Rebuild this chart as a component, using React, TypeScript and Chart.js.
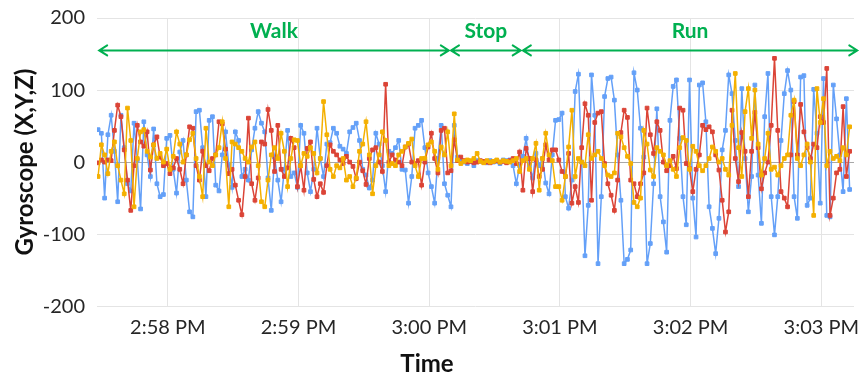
import React, { useEffect, useRef } from 'react';
import { Chart, registerables } from 'chart.js';

Chart.register(...registerables);

// Sample times: seconds after 2:57:00 PM, one reading every STEP_SEC seconds
const START_SEC = 28;
const STEP_SEC = 1.5;
const X_MIN = 27.5;
const X_MAX = 375;

const X_TICK_SECONDS = [60, 120, 180, 240, 300, 360];
const X_TICK_LABELS = ['2:58 PM', '2:59 PM', '3:00 PM', '3:01 PM', '3:02 PM', '3:03 PM'];
const Y_TICKS = [-200, -100, 0, 100, 200];

const GYRO_X = [
  45, 40, -50, 38, 65, 15, -55, 65, 20, -30,
  -40, 54, 3, -65, 56, 10, -20, 46, -30, -48,
  -45, 33, 37, -10, -43, 14, 30, -25, -69, -76,
  70, 72, 20, -48, 58, 63, -32, -40, 10, 42,
  -4, -35, 42, 30, -20, -10, -25, 17, 47, 70,
  54, 42, -22, -67, 7, -25, -55, -10, 44, -20,
  -15, -35, 51, 40, -15, -41, -10, 47, 5, -20,
  25, 27, 47, 40, 22, 18, 12, 42, 48, 54,
  30, -10, -18, -36, -25, 40, 25, -5, -41, 15,
  12, 20, 30, -10, -11, -57, -20, 47, 51, 58,
  20, -15, -34, -57, 5, 51, -30, -46, -62, 51,
  7, 2, 0, -2, 1, -5, 2, 1, 0, -1,
  2, 0, 1, -2, 3, 2, 3, -5, -30, -5,
  8, 33, -5, -22, 12, -5, 5, -29, -44, 10,
  58, 59, 68, -48, -64, -25, 98, 122, 0, -130,
  -60, 121, 65, -141, -48, 91, 116, 118, 86, 10,
  -53, -141, -135, -122, 124, 100, 47, 7, -141, -113,
  -30, 74, -48, -83, -125, 58, 105, 114, 33, -48,
  -87, 114, -50, -104, 107, 110, 56, -62, -92, -127,
  -78, 17, 44, 121, 95, 30, -34, 102, 5, -69,
  -20, 107, -18, -85, 63, 123, -48, -101, -48, 30,
  95, 127, 100, -48, -78, 118, 120, -60, -50, 101,
  40, -57, 116, -74, -76, 107, 60, 10, -41, 88,
  -38,
];

const GYRO_Y = [
  -1, 3, 0, 3, 2, 44, 79, 63, 17, -25,
  -67, -5, 51, 28, 22, 42, -11, 24, 35, 7,
  -5, -2, -16, -8, 5, -10, -30, 10, 49, 47,
  -5, -25, 15, -5, -12, 5, 10, 56, 53, 18,
  -16, -10, -32, -53, -73, -20, 61, -30, -53, -22,
  28, 25, 73, 44, -13, 51, -10, -20, -8, 33,
  20, -34, -5, -39, 19, 28, -24, -48, -30, -42,
  -5, 24, 15, 10, 3, -2, 8, 0, -6, -23,
  0, -12, -31, 5, 17, 20, 0, -13, 108, 0,
  10, 3, 0, -5, 21, 25, 0, -2, 2, -32,
  0, 21, 40, 5, -15, 44, 47, -15, -12, 31,
  2, 7, 2, 0, 1, -1, 0, 2, 1, 0,
  -1, 1, 2, 0, 1, -1, 2, 5, -2, 14,
  -39, 19, 5, -41, 3, -20, -10, 24, 3, 17,
  17, 3, -13, -20, 12, -57, -34, -56, 20, 81,
  65, -53, 55, 68, 70, -2, -30, -46, -67, -25,
  41, 72, 62, -25, -30, -48, -30, -15, 75, 38,
  12, 56, 44, 0, -12, -5, 8, -9, 75, 72,
  -2, -9, -41, -10, 10, 51, 45, 49, 42, 10,
  -11, -53, -97, -69, 72, 5, -27, 41, 15, -48,
  15, 69, 20, -37, -15, 0, 51, 144, 44, -41,
  -50, -62, 10, 84, 10, 80, 42, 20, 5, 25,
  20, 63, 55, 130, -74, -50, -15, -10, 77, -20,
  15,
];

const GYRO_Z = [
  -20, 24, 10, -16, 15, 28, -5, -25, -44, 75,
  30, -62, 5, 42, 45, 15, 7, 24, 5, 12,
  0, 18, -10, 8, 42, 25, 0, 10, 31, 40,
  5, -20, -48, 47, 0, -5, 10, 20, 56, 5,
  -62, 28, 25, 20, 15, 5, 0, 21, 28, -5,
  -55, -62, -25, 10, 20, 5, 40, 15, -34, 5,
  31, 30, -5, 12, 8, 20, 12, -15, 5, 84,
  38, -10, -20, -5, -8, 5, -25, -20, -34, -22,
  15, 25, 56, 10, -44, -5, 10, 42, 30, -5,
  -2, -5, 10, 15, 21, 26, 32, -5, -20, 5,
  5, 24, 28, 15, -10, 21, 10, 42, -5, 67,
  3, -2, 1, 3, 2, 5, 12, 1, -1, 2,
  0, 1, 3, 0, 2, 1, 0, 2, 5, -13,
  2, 5, -10, 5, 26, -39, 5, 40, 10, 2,
  -34, -34, -53, -20, 21, 72, -20, 5, 0, -5,
  38, 5, 10, 15, 5, -5, -18, -20, -15, 40,
  35, 20, 8, -2, -56, -62, -50, 44, 25, -11,
  -20, 20, 15, 10, -5, 2, -10, -20, 20, 34,
  30, -10, 22, 15, -5, -12, -5, 5, 21, 15,
  0, 5, -10, -18, 51, 123, 20, -20, 70, 102,
  33, 100, 25, -18, 5, 40, -10, -7, -18, -5,
  5, 10, 65, 86, 5, -5, 10, 25, 0, -74,
  102, 55, 88, -5, 15, 5, 8, 2, 20, 10,
  49,
];

// Activity phases (seconds after 2:57:00 PM)
const PHASE_LABELS = ['Walk', 'Stop', 'Run'];
const PHASE_START = [28.5, 190, 223];
const PHASE_END = [189, 222, 376.5];
const ARROW_VALUE = 155;
const LABEL_VALUE = 182;

const BLUE = '#64a0f8';
const RED = '#db4437';
const ORANGE = '#f4b000';
const GREEN = '#00b050';
const FONT = 'Lato, "Open Sans", sans-serif';

const toPoints = (vals: number[]) => vals.map((y, i) => ({ x: START_SEC + i * STEP_SEC, y }));

const phasePlugin = {
  id: 'phases',
  afterDatasetsDraw(chart: any) {
    const { ctx, scales } = chart;
    const xs = scales.x;
    const ys = scales.y;
    const ay = ys.getPixelForValue(ARROW_VALUE);
    const ly = ys.getPixelForValue(LABEL_VALUE);
    ctx.save();
    ctx.strokeStyle = GREEN;
    ctx.fillStyle = GREEN;
    ctx.lineWidth = 2;
    ctx.lineCap = 'round';
    PHASE_LABELS.forEach((label, k) => {
      const x0 = xs.getPixelForValue(PHASE_START[k]);
      const x1 = xs.getPixelForValue(PHASE_END[k]);
      ctx.beginPath();
      ctx.moveTo(x0, ay);
      ctx.lineTo(x1, ay);
      ctx.moveTo(x0 + 8, ay - 5);
      ctx.lineTo(x0, ay);
      ctx.lineTo(x0 + 8, ay + 5);
      ctx.moveTo(x1 - 8, ay - 5);
      ctx.lineTo(x1, ay);
      ctx.lineTo(x1 - 8, ay + 5);
      ctx.stroke();
      ctx.font = `bold 21px ${FONT}`;
      ctx.textAlign = 'center';
      ctx.textBaseline = 'middle';
      ctx.fillText(label, (x0 + x1) / 2, ly);
    });
    ctx.restore();
  },
};

export default function App() {
  const canvasRef = useRef<HTMLCanvasElement | null>(null);

  useEffect(() => {
    document.body.style.margin = '0';
    const canvas = canvasRef.current;
    if (!canvas) return;
    const mk = (label: string, vals: number[], color: string, order: number) => ({
      label,
      data: toPoints(vals),
      borderColor: color,
      backgroundColor: color,
      pointBackgroundColor: color,
      pointBorderColor: color,
      borderWidth: 1.5,
      pointRadius: 2.6,
      pointBorderWidth: 1,
      pointStyle: 'rect',
      tension: 0,
      order,
    });
    const chart = new Chart(canvas, {
      type: 'line',
      data: {
        datasets: [
          mk('X', GYRO_X, BLUE, 3),
          mk('Y', GYRO_Y, RED, 2),
          mk('Z', GYRO_Z, ORANGE, 1),
        ] as any,
      },
      options: {
        animation: false,
        responsive: true,
        maintainAspectRatio: false,
        layout: { padding: { top: 18, right: 9, left: 0, bottom: 0 } },
        plugins: {
          legend: { display: false },
          tooltip: { enabled: false },
          title: {
            display: true,
            position: 'bottom',
            text: 'Time',
            color: '#111',
            font: { family: FONT, size: 24, weight: 'bold' },
            padding: { top: 0, bottom: 2 },
          },
        },
        scales: {
          x: {
            type: 'linear',
            min: X_MIN,
            max: X_MAX,
            afterBuildTicks: (s: any) => {
              s.ticks = X_TICK_SECONDS.map((v) => ({ value: v }));
            },
            afterFit: (s: any) => {
              s.height = 44;
              s.paddingLeft = 0;
              s.paddingRight = 0;
            },
            grid: { color: '#e4e4e4', drawTicks: false },
            border: { display: false },
            ticks: {
              padding: 9,
              maxRotation: 0,
              autoSkip: false,
              color: '#262626',
              font: { family: FONT, size: 20 },
              callback: (v: any) => {
                const k = X_TICK_SECONDS.indexOf(Number(v));
                return k >= 0 ? X_TICK_LABELS[k] : '';
              },
            },
          },
          y: {
            min: -200,
            max: 200,
            afterBuildTicks: (s: any) => {
              s.ticks = Y_TICKS.map((v) => ({ value: v }));
            },
            afterFit: (s: any) => {
              s.width = 97;
              s.paddingTop = 0;
              s.paddingBottom = 0;
            },
            grid: {
              color: (c: any) => (c.tick && c.tick.value === 0 ? '#a8a8a8' : '#e4e4e4'),
              drawTicks: false,
            },
            border: { display: false },
            ticks: {
              padding: 12,
              color: '#262626',
              font: { family: FONT, size: 20 },
            },
            title: {
              display: true,
              text: 'Gyroscope (X,Y,Z)',
              color: '#111',
              font: { family: FONT, size: 24, weight: 'bold' },
              padding: { top: 11, bottom: 0 },
            },
          },
        },
      } as any,
      plugins: [phasePlugin],
    });
    return () => chart.destroy();
  }, []);

  return (
    <div style={{ position: 'relative', width: 863, height: 381 }}>
      <canvas ref={canvasRef} />
    </div>
  );
}
